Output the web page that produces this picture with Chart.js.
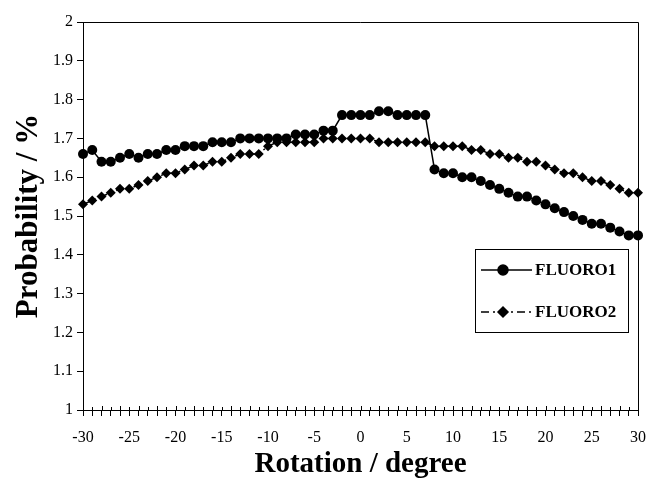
<!DOCTYPE html>
<html>
<head>
<meta charset="utf-8">
<script src="https://cdn.jsdelivr.net/npm/chart.js@4.4.0/dist/chart.umd.min.js"></script>
<style>
  html, body { margin: 0; padding: 0; background: #fff; }
  #wrap { width: 647px; height: 479px; }
</style>
</head>
<body>
<div id="wrap"><canvas id="grafic" width="647" height="479"></canvas></div>
<script>
// dades llegides del gràfic (rotació en graus, probabilitat en %)
const rotacions = [
  '-30','-29','-28','-27','-26','-25','-24','-23','-22','-21',
  '-20','-19','-18','-17','-16','-15','-14','-13','-12','-11',
  '-10','-9','-8','-7','-6','-5','-4','-3','-2','-1',
  '0','1','2','3','4','5','6','7','8','9',
  '10','11','12','13','14','15','16','17','18','19',
  '20','21','22','23','24','25','26','27','28','29','30'
];
const fluoro1 = [
  1.66, 1.67, 1.64, 1.64, 1.65, 1.66, 1.65, 1.66, 1.66, 1.67,
  1.67, 1.68, 1.68, 1.68, 1.69, 1.69, 1.69, 1.70, 1.70, 1.70,
  1.70, 1.70, 1.70, 1.71, 1.71, 1.71, 1.72, 1.72, 1.76, 1.76,
  1.76, 1.76, 1.77, 1.77, 1.76, 1.76, 1.76, 1.76, 1.62, 1.61,
  1.61, 1.60, 1.60, 1.59, 1.58, 1.57, 1.56, 1.55, 1.55, 1.54,
  1.53, 1.52, 1.51, 1.50, 1.49, 1.48, 1.48, 1.47, 1.46, 1.45, 1.45
];
const fluoro2 = [
  1.53, 1.54, 1.55, 1.56, 1.57, 1.57, 1.58, 1.59, 1.60, 1.61,
  1.61, 1.62, 1.63, 1.63, 1.64, 1.64, 1.65, 1.66, 1.66, 1.66,
  1.68, 1.69, 1.69, 1.69, 1.69, 1.69, 1.70, 1.70, 1.70, 1.70,
  1.70, 1.70, 1.69, 1.69, 1.69, 1.69, 1.69, 1.69, 1.68, 1.68,
  1.68, 1.68, 1.67, 1.67, 1.66, 1.66, 1.65, 1.65, 1.64, 1.64,
  1.63, 1.62, 1.61, 1.61, 1.60, 1.59, 1.59, 1.58, 1.57, 1.56, 1.56
];
const etiquetesX = ['-30','-25','-20','-15','-10','-5','0','5','10','15','20','25','30'];
const nomsSeries = ['FLUORO1', 'FLUORO2'];

const SERIF = "'Liberation Serif', 'Times New Roman', serif";

// caixa del gràfic, ticks cap amunt a l'eix X i llegenda dins l'àrea
const extres = {
  id: 'extres',
  afterDraw(chart) {
    const ctx = chart.ctx;
    const a = chart.chartArea;
    const sx = chart.scales.x;
    ctx.save();
    ctx.strokeStyle = '#000';
    ctx.lineWidth = 1;
    ctx.beginPath();
    ctx.moveTo(a.left, a.top + 0.5);
    ctx.lineTo(a.right + 0.5, a.top + 0.5);
    ctx.lineTo(a.right + 0.5, a.bottom);
    ctx.stroke();

    ctx.beginPath();
    rotacions.forEach((r, i) => {
      const px = Math.round(sx.getPixelForValue(i)) + 0.5;
      ctx.moveTo(px, a.bottom);
      ctx.lineTo(px, a.bottom - (i % 2 === 0 ? 4 : 3));
    });
    ctx.stroke();

    // llegenda
    const bx = 475, by = 249, bw = 153, bh = 83;
    ctx.fillStyle = '#fff';
    ctx.fillRect(bx, by, bw, bh);
    ctx.strokeRect(bx + 0.5, by + 0.5, bw, bh);
    const files = [by + 21, by + 63];
    chart.data.datasets.forEach((ds, k) => {
      const y = files[k];
      ctx.strokeStyle = '#000';
      ctx.lineWidth = 1.5;
      ctx.setLineDash(ds.borderDash || []);
      ctx.beginPath();
      ctx.moveTo(bx + 6, y);
      ctx.lineTo(bx + 57, y);
      ctx.stroke();
      ctx.setLineDash([]);
      ctx.fillStyle = '#000';
      Chart.helpers.drawPoint(ctx, { pointStyle: ds.pointStyle, radius: ds.pointRadius, borderWidth: 1 }, bx + 28, y);
      ctx.fillStyle = '#000';
      ctx.font = "bold 17px " + SERIF;
      ctx.textBaseline = 'middle';
      ctx.textAlign = 'left';
      ctx.fillText(ds.label, bx + 60, y + 1);
    });
    ctx.restore();
  }
};

new Chart(document.getElementById('grafic'), {
  type: 'line',
  data: {
    labels: rotacions,
    datasets: [
      {
        label: nomsSeries[0],
        data: fluoro1,
        borderColor: '#000',
        backgroundColor: '#000',
        borderWidth: 1.5,
        pointStyle: 'circle',
        pointRadius: 5,
        pointBorderWidth: 0,
        tension: 0
      },
      {
        label: nomsSeries[1],
        data: fluoro2,
        borderColor: '#000',
        backgroundColor: '#000',
        borderWidth: 1.5,
        borderDash: [8, 4, 2, 4],
        pointStyle: 'rectRot',
        pointRadius: 5,
        pointBorderWidth: 0,
        tension: 0
      }
    ]
  },
  options: {
    responsive: false,
    animation: false,
    devicePixelRatio: 1,
    layout: { padding: { left: 0, right: 9, top: 22, bottom: 0 } },
    plugins: { legend: { display: false }, tooltip: { enabled: false } },
    scales: {
      x: {
        type: 'category',
        offset: false,
        afterFit: s => { s.height = 69; s.paddingLeft = 0; s.paddingRight = 0; },
        border: { color: '#000', width: 1 },
        grid: { drawOnChartArea: false, color: '#000', tickLength: 6, tickWidth: 1 },
        ticks: {
          autoSkip: false,
          maxRotation: 0,
          padding: 12,
          color: '#000',
          font: { family: SERIF, size: 16 },
          callback: function (v) {
            const l = this.getLabelForValue(v);
            return etiquetesX.includes(l) ? l : '';
          }
        },
        title: {
          display: true,
          text: 'Rotation / degree',
          color: '#000',
          font: { family: SERIF, size: 29, weight: 'bold', lineHeight: 1 },
          padding: { top: 0, bottom: 0 }
        }
      },
      y: {
        min: 1,
        max: 2,
        afterFit: s => { s.width = 83; s.paddingTop = 0; s.paddingBottom = 0; },
        border: { color: '#000', width: 1 },
        grid: { drawOnChartArea: false, color: '#000', tickLength: 6 },
        ticks: {
          stepSize: 0.1,
          padding: 4,
          color: '#000',
          font: { family: SERIF, size: 16 },
          callback: v => String(Number(v.toFixed(1)))
        },
        title: {
          display: true,
          text: 'Probability / %',
          color: '#000',
          font: { family: SERIF, size: 31, weight: 'bold', lineHeight: 1 },
          padding: { top: 13, bottom: 0 }
        }
      }
    }
  },
  plugins: [extres]
});
</script>
</body>
</html>
